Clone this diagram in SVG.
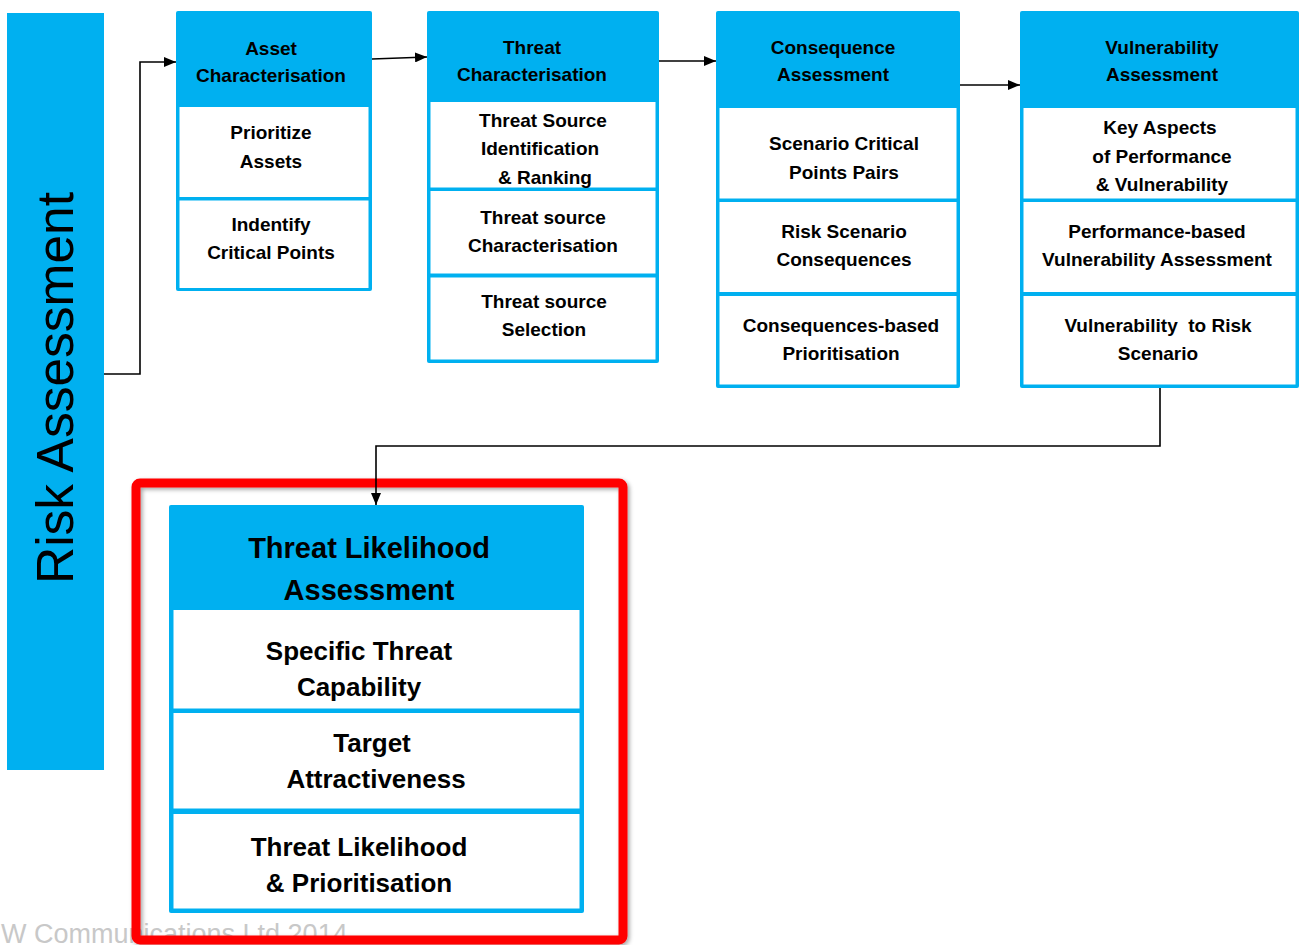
<svg xmlns="http://www.w3.org/2000/svg" width="1299" height="945" viewBox="0 0 1299 945">
<defs>
<style>
.blue{fill:#00B0F0}
.cell{fill:#FFFFFF}
.t{font-family:"Liberation Sans",Arial,sans-serif;font-weight:bold;font-size:19px;fill:#000;text-anchor:middle}
.tb{font-family:"Liberation Sans",Arial,sans-serif;font-weight:bold;font-size:26px;fill:#000;text-anchor:middle}
.th{font-family:"Liberation Sans",Arial,sans-serif;font-weight:bold;font-size:29px;fill:#000;text-anchor:middle}
.conn{fill:none;stroke:#000;stroke-width:1.6}
</style>
<marker id="arr" markerUnits="userSpaceOnUse" markerWidth="12" markerHeight="10" refX="12" refY="5" orient="auto">
<path d="M0,0 L12,5 L0,10 z" fill="#000"/>
</marker>
<filter id="sh" x="-5%" y="-5%" width="110%" height="110%">
<feDropShadow dx="2" dy="2" stdDeviation="2" flood-color="#000" flood-opacity="0.35"/>
</filter>
</defs>
<rect width="1299" height="945" fill="#FFFFFF"/>

<g id="risk-assessment">
<rect class="blue" x="7" y="13" width="97" height="757"/>
<text transform="translate(73,388) rotate(-90)" font-family="'Liberation Sans',Arial,sans-serif" font-size="51.5" text-anchor="middle" fill="#000">Risk Assessment</text>
</g>

<g id="asset-characterisation">
<rect class="blue" x="176" y="11" width="196" height="280" rx="2"/>
<rect class="cell" x="179.5" y="107" width="189" height="90"/>
<rect class="cell" x="179.5" y="200.5" width="189" height="87.5"/>
<text class="t" x="271" y="55">Asset</text>
<text class="t" x="271" y="82">Characterisation</text>
<text class="t" x="271" y="139">Prioritize</text>
<text class="t" x="271" y="168">Assets</text>
<text class="t" x="271" y="231">Indentify</text>
<text class="t" x="271" y="259">Critical Points</text>
</g>

<g id="threat-characterisation">
<rect class="blue" x="427" y="11" width="232" height="352" rx="2"/>
<rect class="cell" x="430.5" y="102" width="225" height="85.5"/>
<rect class="cell" x="430.5" y="191" width="225" height="82.5"/>
<rect class="cell" x="430.5" y="277.5" width="225" height="82"/>
<text class="t" x="532" y="54">Threat</text>
<text class="t" x="532" y="81">Characterisation</text>
<text class="t" x="543" y="127">Threat Source</text>
<text class="t" x="540" y="155">Identification</text>
<text class="t" x="545" y="184">&amp; Ranking</text>
<text class="t" x="543" y="224">Threat source</text>
<text class="t" x="543" y="252">Characterisation</text>
<text class="t" x="544" y="308">Threat source</text>
<text class="t" x="544" y="336">Selection</text>
</g>

<g id="consequence-assessment">
<rect class="blue" x="716" y="11" width="244" height="377" rx="2"/>
<rect class="cell" x="719.5" y="108" width="237" height="90.5"/>
<rect class="cell" x="719.5" y="202" width="237" height="90"/>
<rect class="cell" x="719.5" y="296" width="237" height="88.5"/>
<text class="t" x="833" y="54">Consequence</text>
<text class="t" x="833" y="81">Assessment</text>
<text class="t" x="844" y="150">Scenario Critical</text>
<text class="t" x="844" y="179">Points Pairs</text>
<text class="t" x="844" y="238">Risk Scenario</text>
<text class="t" x="844" y="266">Consequences</text>
<text class="t" x="841" y="332">Consequences-based</text>
<text class="t" x="841" y="360">Prioritisation</text>
</g>

<g id="vulnerability-assessment">
<rect class="blue" x="1020" y="11" width="279" height="377" rx="2"/>
<rect class="cell" x="1023.5" y="108" width="272" height="90.5"/>
<rect class="cell" x="1023.5" y="202" width="272" height="90"/>
<rect class="cell" x="1023.5" y="296" width="272" height="88.5"/>
<text class="t" x="1162" y="54">Vulnerability</text>
<text class="t" x="1162" y="81">Assessment</text>
<text class="t" x="1160" y="134">Key Aspects</text>
<text class="t" x="1162" y="163">of Performance</text>
<text class="t" x="1162" y="191">&amp; Vulnerability</text>
<text class="t" x="1157" y="238">Performance-based</text>
<text class="t" x="1157" y="266">Vulnerability Assessment</text>
<text class="t" x="1158" y="332" xml:space="preserve">Vulnerability  to Risk</text>
<text class="t" x="1158" y="360">Scenario</text>
</g>

<g id="watermark">
<text x="1" y="943" font-family="'Liberation Sans',Arial,sans-serif" font-size="27" fill="#C8C8C8">W Communications Ltd 2014</text>
</g>

<g id="threat-likelihood-assessment">
<rect class="blue" x="169" y="505" width="415" height="408" rx="2"/>
<rect class="cell" x="173.5" y="610" width="406" height="98.5"/>
<rect class="cell" x="173.5" y="713" width="406" height="95.5"/>
<rect class="cell" x="173.5" y="814" width="406" height="94.5"/>
<text class="th" x="369" y="558">Threat Likelihood</text>
<text class="th" x="369" y="600">Assessment</text>
<text class="tb" x="359" y="660">Specific Threat</text>
<text class="tb" x="359" y="696">Capability</text>
<text class="tb" x="372" y="752">Target</text>
<text class="tb" x="376" y="788">Attractiveness</text>
<text class="tb" x="359" y="856">Threat Likelihood</text>
<text class="tb" x="359" y="892">&amp; Prioritisation</text>
</g>

<g id="highlight">
<rect x="136" y="483" width="487" height="457" rx="4" fill="none" stroke="#FF0000" stroke-width="9" filter="url(#sh)"/>
</g>

<g id="connectors">
<polyline class="conn" points="104,374 140,374 140,62 176,62" marker-end="url(#arr)"/>
<line class="conn" x1="372" y1="59" x2="427" y2="57" marker-end="url(#arr)"/>
<line class="conn" x1="659" y1="61" x2="716" y2="61" marker-end="url(#arr)"/>
<line class="conn" x1="960" y1="85" x2="1020" y2="85" marker-end="url(#arr)"/>
<polyline class="conn" points="1160,388 1160,446 376,446 376,505" marker-end="url(#arr)"/>
</g>
</svg>
